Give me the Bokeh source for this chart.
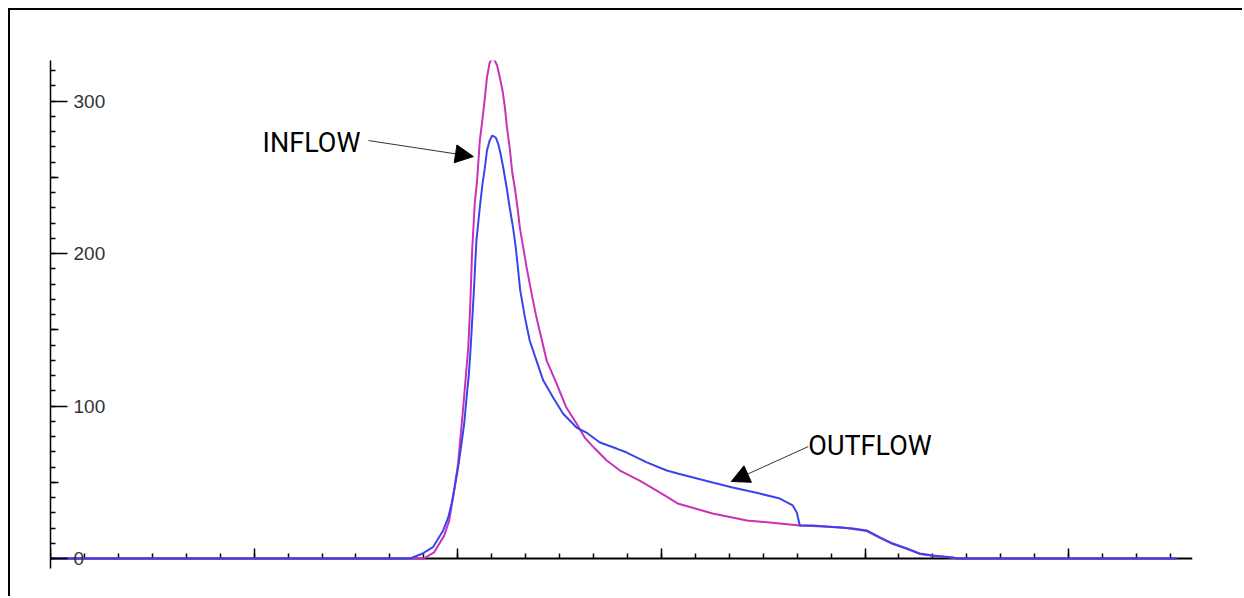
from bokeh.plotting import figure
from bokeh.models import (Range1d, LinearAxis, SingleIntervalTicker, FixedTicker,
                          Arrow, NormalHead, ColumnDataSource)
from bokeh.core.properties import value
from bokeh.embed import file_html
from bokeh.resources import INLINE

# time (hours) and flow values
outflow_t = [0, 10.59, 10.97, 11.27, 11.57, 11.72, 11.82, 11.91, 12.01, 12.11,
             12.19, 12.26, 12.33, 12.38, 12.43, 12.47, 12.55, 12.65, 12.73, 12.80,
             12.86, 12.94, 13.02, 13.12, 13.19, 13.26, 13.34, 13.44, 13.53, 13.63,
             13.71, 13.78, 13.84, 13.98, 14.12, 14.32, 14.52, 14.81, 15.10, 15.50,
             15.79, 16.19, 16.68, 16.98, 17.57, 18.16, 18.48, 19.51, 20.10, 20.90,
             21.49, 21.87, 21.99, 22.08, 22.46, 23.64, 24.05, 24.44, 24.82, 25.23,
             25.61, 26.00, 26.59, 26.73, 33.19]
outflow_q = [0, 0, 3.3, 7.4, 18.4, 26.9, 36.1, 46.6, 59.7, 75.4,
             88.5, 105.6, 121.3, 138.4, 158.0, 173.5, 208.5, 230.2, 245.9, 256.4,
             267.5, 274.1, 277.4, 276.1, 272.1, 265.6, 256.4, 243.3, 230.2, 217.0,
             203.9, 188.9, 176.0, 158.0, 143.0, 129.8, 116.7, 105.6, 95.1, 85.9,
             82.6, 76.1, 72.1, 69.5, 63.0, 57.7, 55.7, 49.8, 46.6, 42.6,
             39.3, 34.8, 30.2, 21.6, 21.6, 19.7, 18.4, 13.8, 9.8, 6.6,
             3.3, 2.0, 0.7, 0, 0]

inflow_t = [0, 11.0, 11.3, 11.6, 11.75, 11.86, 12.01, 12.16, 12.31, 12.37,
            12.42, 12.50, 12.57, 12.65, 12.73, 12.80, 12.86, 12.94, 13.01, 13.09,
            13.16, 13.24, 13.32, 13.39, 13.45, 13.53, 13.61, 13.68, 13.76, 13.83,
            13.93, 14.03, 14.12, 14.20, 14.32, 14.62, 14.91, 15.20, 15.50, 15.74,
            16.04, 16.39, 16.78, 17.36, 17.95, 18.48, 19.51, 20.52, 21.49, 22.08,
            22.76, 23.35, 24.05, 24.44, 24.82, 25.23, 25.61, 26.00, 26.59, 26.73,
            33.19]
inflow_q = [0, 0, 4.0, 15.0, 25.0, 40.0, 62.0, 99.0, 138.4, 167.0,
            200.0, 232.8, 247.9, 274.1, 288.5, 302.3, 315.4, 325.2, 327.9, 326.6,
            323.3, 315.4, 306.9, 295.7, 282.6, 269.5, 252.5, 243.3, 230.2, 217.0,
            203.9, 190.8, 180.3, 171.1, 158.0, 129.8, 114.8, 99.0, 88.5, 79.3,
            72.1, 64.3, 57.7, 51.1, 43.3, 36.1, 29.5, 24.9, 23.0, 21.6,
            21.0, 20.3, 18.0, 13.5, 9.5, 6.3, 3.0, 1.8, 0.5, 0,
            0]

y_ticks = [0, 100, 200, 300]
y_tick_labels = ["0", "100", "200", "300"]
y_mid_ticks = [50, 150, 250]

labels = ["INFLOW", "OUTFLOW"]

p = figure(width=1234, height=588, output_backend="svg", toolbar_location=None,
           x_range=Range1d(0, 33.65), y_range=Range1d(-6.56, 326.6),
           x_axis_type=None, y_axis_type=None,
           min_border_left=40, min_border_right=52, min_border_top=50, min_border_bottom=30)
p.outline_line_color = None
p.background_fill_color = "white"
p.border_fill_color = "white"
# outer frame of the original figure: only its top and left sides are in view
p.styles = {"margin-left": "10px", "margin-top": "10px",
            "box-shadow": "-2px -2px 0 0 black"}

hidden = dict(major_label_text_font_size="1px", major_label_text_color=None)

yaxis = LinearAxis(ticker=SingleIntervalTicker(interval=100, num_minor_ticks=10),
                   axis_line_color="black", axis_line_width=1.5,
                   major_tick_in=17, major_tick_out=0, minor_tick_in=5, minor_tick_out=0,
                   major_tick_line_width=1.5, minor_tick_line_width=1.5,
                   major_tick_line_color="black", minor_tick_line_color="black",
                   **hidden)
p.add_layout(yaxis, "left")

ymid = LinearAxis(ticker=FixedTicker(ticks=y_mid_ticks), axis_line_color=None,
                  major_tick_in=8, major_tick_out=0, major_tick_line_width=1.5,
                  major_tick_line_color="black", minor_tick_line_color=None,
                  fixed_location=0, **hidden)
p.add_layout(ymid, "left")

xaxis = LinearAxis(ticker=SingleIntervalTicker(interval=6, num_minor_ticks=6),
                   bounds=(0, 33.65), fixed_location=0,
                   axis_line_color="black", axis_line_width=2,
                   major_tick_in=10, major_tick_out=0, minor_tick_in=5, minor_tick_out=0,
                   major_tick_line_width=1.5, minor_tick_line_width=1.5,
                   major_tick_line_color="black", minor_tick_line_color="black",
                   level="underlay", **hidden)
p.add_layout(xaxis, "below")

p.line(inflow_t, inflow_q, line_color="#C832B8", line_width=2)
p.line(outflow_t, outflow_q, line_color="#3A44EC", line_width=2)

tick_src = ColumnDataSource(dict(x=[0] * len(y_ticks), y=y_ticks, text=y_tick_labels))
p.text(x="x", y="y", text="text", source=tick_src, x_offset=23,
       text_align="left", text_baseline="middle",
       text_font=value("Liberation Sans"), text_font_size="19px", text_color="#333333")

p.text(x=[6.25, 22.33], y=[272.8, 74.1], text=labels,
       text_align="left", text_baseline="alphabetic",
       text_font=value("Roboto"), text_font_size="27px", text_color="black")

p.add_layout(Arrow(end=NormalHead(size=18, fill_color="black", line_color="black", line_width=1),
                   x_start=9.37, y_start=274.1, x_end=12.46, y_end=263.6,
                   line_color="#333333", line_width=1))
p.add_layout(Arrow(end=NormalHead(size=18, fill_color="black", line_color="black", line_width=1),
                   x_start=22.33, y_start=73.4, x_end=20.06, y_end=50.5,
                   line_color="#333333", line_width=1))

open("out.html", "w").write(file_html(p, INLINE))
